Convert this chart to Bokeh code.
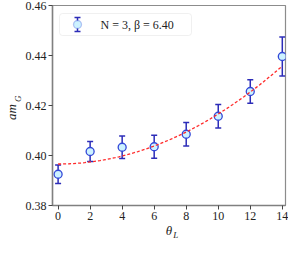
import numpy as np
from bokeh.plotting import figure
from bokeh.models import (ColumnDataSource, Whisker, TeeHead, Label, BoxAnnotation,
                          FixedTicker, Range1d, NumeralTickFormatter, LinearAxis)
from bokeh.embed import file_html
from bokeh.resources import INLINE

# ---- data ----
theta_L = [0, 2, 4, 6, 8, 10, 12, 14]
am_G = [0.3925, 0.4016, 0.4033, 0.4035, 0.4085, 0.4157, 0.4256, 0.4396]
am_G_err = [0.0037, 0.0040, 0.0045, 0.0046, 0.0047, 0.0047, 0.0047, 0.0078]
# quadratic fit a + b*theta^2 (dashed red curve)
fit_a = 0.3966
fit_b = 0.000200
x_ticks = [0, 2, 4, 6, 8, 10, 12, 14]
y_ticks = [0.38, 0.40, 0.42, 0.44, 0.46]
legend_label = "N = 3, β = 6.40"

ERR = "#2c2cb8"
EDGE = "#3348d8"
FILL = "#cdf2ff"
FIT = "#ff2a2a"
FONT = "Liberation Serif"
TXT = "#222222"

W, H = 288, 242
BT = 5

p = figure(width=W, height=H, output_backend="svg", toolbar_location=None,
           x_range=Range1d(-0.35, 14.2), y_range=Range1d(0.38, 0.46),
           min_border_left=10, min_border_right=3, min_border_top=BT,
           min_border_bottom=10)
p.grid.visible = False
p.outline_line_color = "#8c8c8c"
p.outline_line_width = 1.2
p.background_fill_color = "white"
p.border_fill_color = "white"

for ax in (p.xaxis[0], p.yaxis[0]):
    ax.axis_line_color = "#808080"
    ax.axis_line_width = 1.5
    ax.major_tick_line_color = "#444444"
    ax.major_tick_out = 4
    ax.major_tick_in = 0
    ax.minor_tick_out = 0
    ax.minor_tick_in = 0
    ax.minor_tick_line_color = None
    ax.major_label_text_font = FONT
    ax.major_label_text_font_size = "12px"
    ax.major_label_text_color = TXT
    ax.major_label_standoff = 2
    ax.axis_label_text_font = FONT
    ax.axis_label_text_font_style = "italic"
    ax.axis_label_text_color = TXT
p.xaxis.ticker = FixedTicker(ticks=x_ticks)
p.yaxis.ticker = FixedTicker(ticks=y_ticks)
p.yaxis.formatter = NumeralTickFormatter(format="0.00")

# axis titles: main symbol and subscript on two stacked axes
p.xaxis.axis_label = "θ"
p.xaxis.axis_label_text_font_size = "13px"
p.xaxis.axis_label_standoff = 0
p.xaxis.axis_label_text_line_height = 0.7
p.yaxis.axis_label = "\u2003\u2002G"
p.yaxis.axis_label_text_font_size = "9px"
p.yaxis.axis_label_standoff = 0
p.yaxis.axis_label_text_line_height = 0.5


def sub_axis(label, size, standoff, lh=1.2):
    return LinearAxis(ticker=FixedTicker(ticks=[]), axis_label=label,
                      axis_line_color=None, major_tick_line_color=None,
                      minor_tick_line_color=None,
                      major_tick_out=0, major_tick_in=0,
                      minor_tick_out=0, minor_tick_in=0,
                      major_label_standoff=0,
                      axis_label_text_font=FONT, axis_label_text_font_style="italic",
                      axis_label_text_font_size=size, axis_label_text_color=TXT,
                      axis_label_text_line_height=lh,
                      axis_label_standoff=standoff)


p.add_layout(sub_axis("\u2003\u2002L", "9px", -11, lh=0.4), "below")
p.add_layout(sub_axis("am\u2003", "13px", -9, lh=0.8), "left")

# data
src = ColumnDataSource(dict(
    theta=theta_L, am=am_G,
    lower=[v - e for v, e in zip(am_G, am_G_err)],
    upper=[v + e for v, e in zip(am_G, am_G_err)]))

p.add_layout(Whisker(source=src, base="theta", lower="lower", upper="upper",
                     dimension="height", line_color=ERR, line_width=1.5,
                     lower_head=TeeHead(size=6, line_color=ERR, line_width=1.5),
                     upper_head=TeeHead(size=6, line_color=ERR, line_width=1.5)))
p.scatter("theta", "am", source=src, marker="circle", size=8,
          fill_color=FILL, line_color=EDGE, line_width=1.3)

fit_x = np.linspace(min(theta_L), max(theta_L), 60)
fit_y = fit_a + fit_b * fit_x ** 2
p.line(fit_x, fit_y, line_color=FIT, line_width=1.3, line_dash="3 2")

# legend drawn by hand: x in px from frame left, y in canvas px from the top
LX0, LX1, LT, LB = 7, 139, BT + 8, BT + 30
KX, KY = 25, BT + 19


def box(l, r, t, b, **kw):
    return BoxAnnotation(left=l, right=r, top=t, bottom=b,
                         left_units="screen", right_units="screen",
                         top_units="canvas", bottom_units="canvas",
                         level="overlay", **kw)


p.add_layout(box(LX0, LX1, LT, LB, fill_color="white", fill_alpha=0.85,
                 line_color="#cccccc", line_width=1, border_radius=3))
p.add_layout(box(KX - 0.75, KX + 0.75, KY - 7, KY + 7,
                 fill_color=ERR, fill_alpha=1, line_color=None))
for cy in (KY - 7, KY + 7):
    p.add_layout(box(KX - 3, KX + 3, cy - 0.75, cy + 0.75,
                     fill_color=ERR, fill_alpha=1, line_color=None))
p.add_layout(box(KX - 4, KX + 4, KY - 4, KY + 4, fill_color=FILL, fill_alpha=1,
                 line_color=EDGE, line_width=1.3, border_radius=4))
p.add_layout(Label(x=48, y=KY, x_units="screen", y_units="canvas",
                   text=legend_label, text_baseline="middle", text_align="left",
                   text_font=FONT, text_font_size="12px", text_color=TXT,
                   level="overlay"))

open("out.html", "w").write(file_html(p, INLINE))
